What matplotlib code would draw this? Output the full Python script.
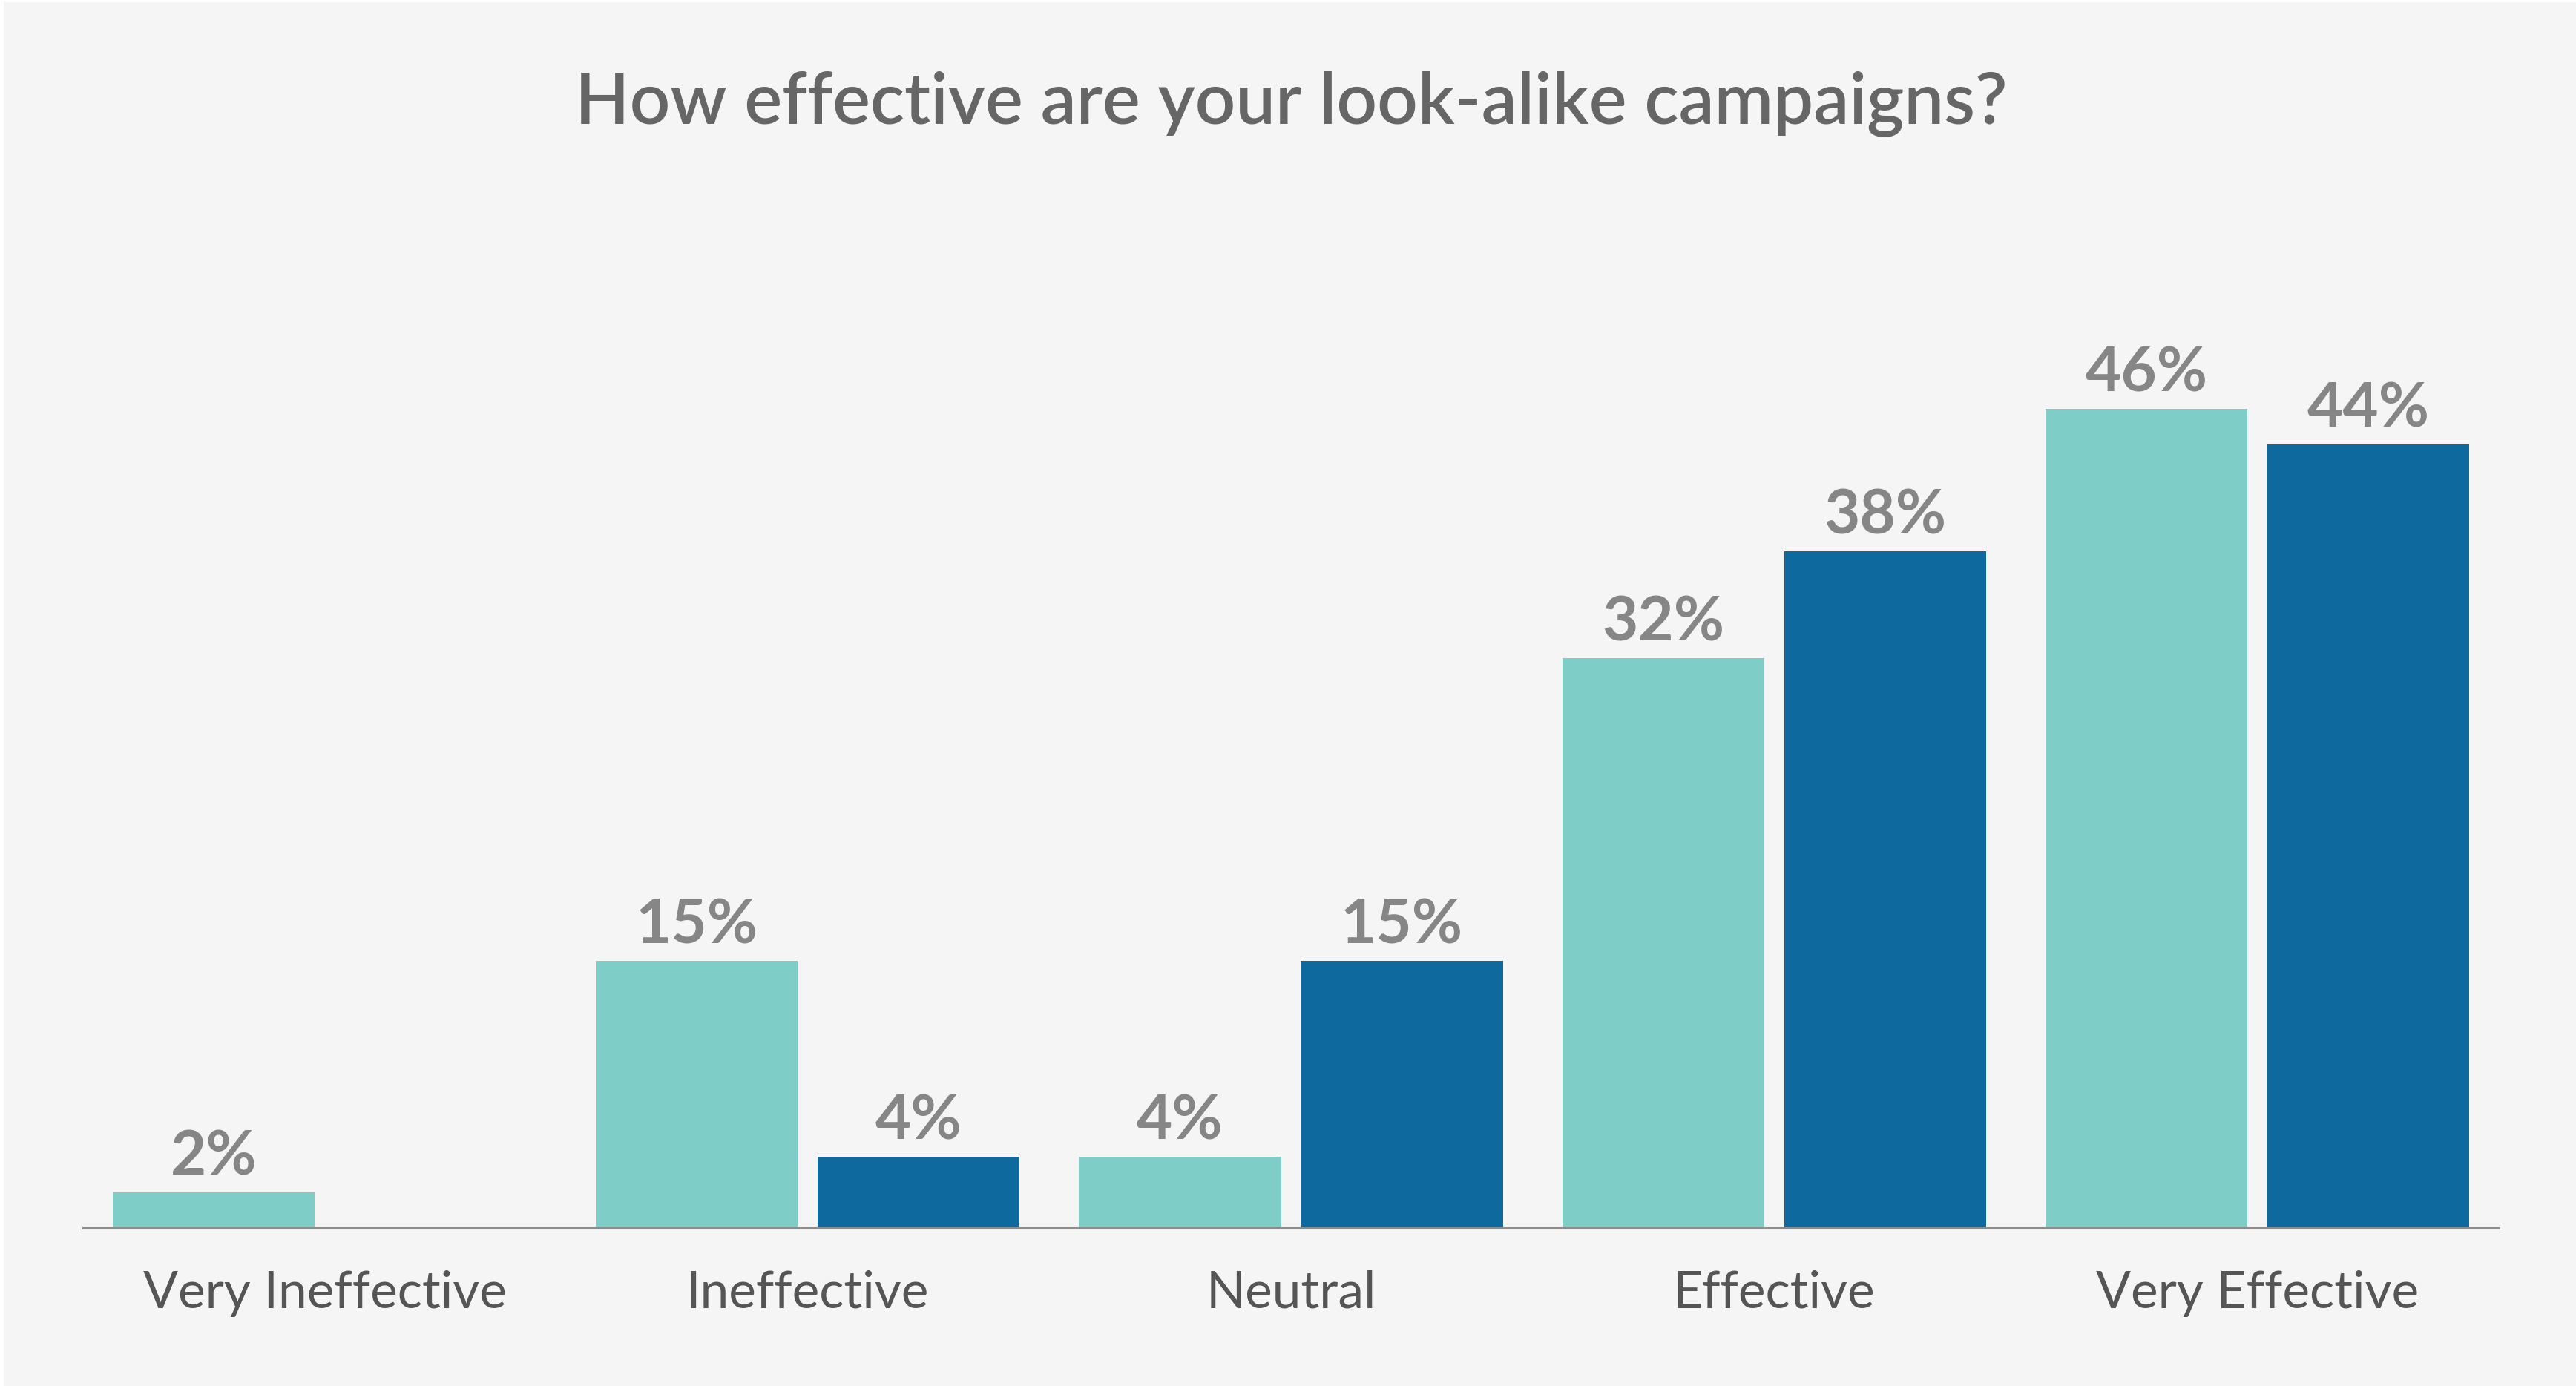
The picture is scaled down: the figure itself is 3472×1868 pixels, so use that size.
import numpy as np
import matplotlib
matplotlib.use("Agg")
import matplotlib.pyplot as plt
from matplotlib.patches import Rectangle

# survey answers, two respondent groups
categories = ["Very Ineffective", "Ineffective", "Neutral", "Effective", "Very Effective"]
series_a = [2, 15, 4, 32, 46]     # light teal
series_b = [0, 4, 15, 38, 44]     # dark blue (no bar for the first answer)
labels_a = ["2%", "15%", "4%", "32%", "46%"]
labels_b = [None, "4%", "15%", "38%", "44%"]

title = "How effective are your look-alike campaigns?"

BG = "#f5f5f5"
TEAL = "#7ecdc6"
BLUE = "#0e6a9e"
VAL_GREY = "#868686"
TITLE_GREY = "#666666"
CAT_GREY = "#555555"

fig = plt.figure(figsize=(34.73, 18.68), dpi=100)
fig.patch.set_facecolor("white")
# light panel with a thin white rim on the top/left
fig.patches.append(Rectangle((5 / 3473, 0), 1, 1 - 3 / 1868, transform=fig.transFigure,
                             facecolor=BG, edgecolor="none", zorder=-10))

ax = fig.add_axes([112 / 3473, 213 / 1868, (3368 - 112) / 3473, 1200 / 1868])
ax.set_facecolor("none")

x = np.arange(len(categories))
off = 0.2297
w = 0.418

ax.bar(x - off, series_a, width=w, color=TEAL, zorder=2)
ax.bar(x + off, series_b, width=w, color=BLUE, zorder=2)

valfont = dict(family=["Lato", "DejaVu Sans"], weight="bold", fontsize=60, color=VAL_GREY)
for xi, v, lab in zip(x - off, series_a, labels_a):
    ax.annotate(lab, (xi, v), xytext=(0, 17), textcoords="offset points",
                ha="center", va="baseline", **valfont)
for xi, v, lab in zip(x + off, series_b, labels_b):
    if lab is None:
        continue
    ax.annotate(lab, (xi, v), xytext=(0, 17), textcoords="offset points",
                ha="center", va="baseline", **valfont)

ax.set_xlim(-0.5, 4.5)
ax.set_ylim(0, 50)

for s in ["top", "right", "left"]:
    ax.spines[s].set_visible(False)
ax.spines["bottom"].set_color("#8c8c8c")
ax.spines["bottom"].set_linewidth(2.2)
ax.spines["bottom"].set_zorder(3)
ax.set_yticks([])
ax.set_xticks(x)
ax.set_xticklabels(categories, family=["Lato", "DejaVu Sans"], weight="normal",
                   fontsize=50, color=CAT_GREY)
ax.tick_params(axis="x", length=0, pad=41)

fig.text(0.501, 1 - 167 / 1868, title, ha="center", va="baseline",
         family=["Lato", "DejaVu Sans"], weight="semibold", fontsize=69, color=TITLE_GREY)

fig.savefig("out.png", dpi=100, facecolor=fig.get_facecolor())
